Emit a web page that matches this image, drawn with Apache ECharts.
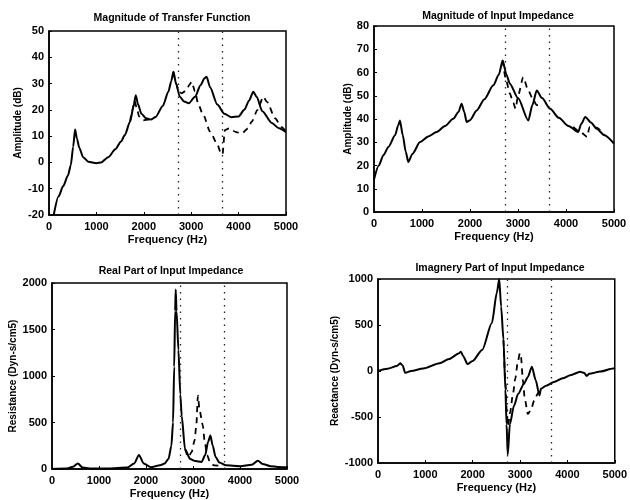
<!DOCTYPE html>
<html>
<head>
<meta charset="utf-8">
<script src="https://cdn.jsdelivr.net/npm/echarts@6/dist/echarts.min.js"></script>
<style>
  html, body { margin: 0; padding: 0; background: #fff; }
  #chart { width: 630px; height: 500px; }
</style>
</head>
<body>
<div id="chart"></div>
<script>
// vertical dotted marker frequencies (Hz)
const markerHz = [2730, 3660];

// Magnitude of Transfer Function
const tfSolidHz = [100, 200, 300, 400, 460, 510, 550, 590, 640, 720, 830, 1000, 1100, 1250, 1400, 1520, 1600, 1710, 1780, 1830, 1880, 1950, 2050, 2150, 2250, 2400, 2520, 2580, 2625, 2680, 2760, 2850, 2950, 3080, 3200, 3280, 3325, 3400, 3550, 3700, 3850, 4000, 4120, 4220, 4310, 4380, 4500, 4700, 4850, 5000];
const tfSolidDb = [-20, -13, -9, -5, -1, 6, 12.5, 9, 5.5, 2, 0.3, -0.3, 0, 2, 5, 8, 10.4, 15.5, 21, 25.6, 22, 18.5, 16.8, 16.3, 17.3, 21.5, 27, 31, 34.5, 30, 25, 23.2, 22.5, 25, 29.5, 32, 32.6, 28.5, 22, 18.5, 17.2, 17.5, 20, 23.5, 26.9, 25, 19.5, 15, 13, 11.5];
const tfDashHz = [1710, 1760, 1800, 1850, 1900, 1990, 2100, 2250];
const tfDashDb = [15.5, 20, 23.5, 21, 17.5, 16, 16.3, 17.3];
const tfDash2Hz = [2625, 2680, 2740, 2800, 2900, 2960, 3010, 3080, 3150, 3255, 3400, 3540, 3630, 3660, 3710, 3800, 3950, 4065, 4200, 4276, 4400, 4520, 4600, 4770, 4900, 5000];
const tfDash2Db = [34.5, 30, 27, 26.3, 27.5, 29.5, 30.7, 27, 22, 18, 11.7, 7.3, 3.5, 3, 12.3, 13, 11.5, 11, 13, 15.5, 20, 25, 23, 16.8, 13.5, 11.7];

// Magnitude of Input Impedance
const ziSolidHz = [0, 100, 195, 300, 440, 500, 540, 600, 660, 715, 800, 960, 1130, 1305, 1480, 1650, 1760, 1825, 1880, 1930, 2000, 2140, 2300, 2485, 2600, 2680, 2760, 2830, 3000, 3215, 3300, 3390, 3500, 3670, 3850, 4050, 4255, 4320, 4400, 4520, 4640, 4800, 5000];
const ziSolidDb = [14, 20, 24.4, 28, 33, 37, 39.4, 33, 26, 21.5, 25, 30.1, 32.5, 34.4, 37, 40.1, 43, 46.6, 43, 38.7, 39.5, 43.7, 48.5, 54.5, 59, 65.2, 59, 55.2, 49, 39.4, 46, 52.3, 49, 44.4, 40.5, 37, 34.4, 38, 40.9, 38.5, 35.8, 33, 29.4];
const ziDashHz = [2680, 2760, 2830, 2900, 2950, 3000, 3110, 3210, 3300, 3390, 3500];
const ziDashDb = [65.2, 56, 51, 47, 44.4, 50, 58, 52.5, 49, 46, 46];
const ziDash2Hz = [4150, 4300, 4440, 4490, 4640, 4800];
const ziDash2Db = [36.6, 34.4, 32.3, 36.5, 36.3, 33];

// Real Part of Input Impedance
const reSolidHz = [0, 300, 450, 550, 650, 800, 1200, 1600, 1750, 1850, 1950, 2100, 2300, 2400, 2480, 2540, 2575, 2600, 2620, 2632, 2650, 2690, 2730, 2760, 2830, 2940, 3050, 3180, 3260, 3320, 3370, 3420, 3480, 3560, 3700, 4000, 4250, 4380, 4480, 4650, 4800, 5000];
const reSolidR = [0, 5, 25, 60, 15, 5, 5, 15, 60, 150, 60, 20, 40, 60, 110, 250, 500, 1100, 1700, 1930, 1700, 1280, 800, 570, 214, 107, 85, 75, 150, 290, 360, 250, 130, 70, 40, 30, 45, 90, 55, 30, 22, 18];
const reDashHz = [2830, 2900, 2970, 3035, 3070, 3105, 3140, 3210, 3245, 3300, 3370, 3450, 3560];
const reDashR = [214, 130, 180, 310, 470, 788, 631, 467, 310, 150, 60, 40, 35];

// Imaginary Part of Input Impedance
const imSolidHz = [0, 200, 400, 470, 520, 575, 700, 955, 1300, 1500, 1715, 1750, 1800, 1890, 2000, 2200, 2405, 2510, 2560, 2600, 2650, 2690, 2715, 2740, 2785, 2870, 2960, 3080, 3165, 3250, 3330, 3410, 3440, 3550, 3715, 3900, 4060, 4270, 4350, 4410, 4460, 4700, 4965, 5000];
const imSolidX = [0, 25, 55, 83, 60, -20, 0, 27, 83, 130, 193, 210, 160, 75, 110, 229, 522, 852, 1000, 700, 339, -200, -578, -908, -578, -380, -248, -140, -64, 46, -100, -266, -193, -160, -119, -80, -46, -9, -20, -53, -30, -5, 27, 30];
const imDashHz = [2650, 2690, 2720, 2745, 2790, 2850, 2900, 2950, 2995, 3020, 3060, 3100, 3165, 3230, 3300, 3380, 3440];
const imDashX = [339, -100, -450, -600, -450, -250, -80, 90, 193, 150, -100, -303, -468, -420, -321, -240, -193];

const titles = ['Magnitude of Transfer Function', 'Magnitude of Input Impedance', 'Real Part of Input Impedance', 'Imagnery Part of Input Impedance'];
const yNames = ['Amplitude (dB)', 'Amplitude (dB)', 'Resistance (Dyn-s/cm5)', 'Reactance (Dyn-s/cm5)'];

const zip = (a, b) => a.map((v, i) => [v, b[i]]);

const font = 'Liberation Sans';
const grids = [
  { left: 49, top: 31, width: 237, height: 184 },
  { left: 374, top: 26, width: 240, height: 186 },
  { left: 52, top: 283, width: 235, height: 187 },
  { left: 378, top: 279, width: 241, height: 184 }
];
const yRange = [[-20, 50, 10], [0, 80, 10], [0, 2000, 500], [-1000, 1000, 500]];
const yGap = [26, 18, 31, 38];
const titlePos = [[167, 8], [493, 6], [166, 261], [495, 258]];

const chart = echarts.init(document.getElementById('chart'));

const solid = { type: 'line', showSymbol: false, smooth: 0.25, smoothMonotone: 'x', lineStyle: { color: '#000', width: 2 }, silent: true };
const dashed = { type: 'line', showSymbol: false, smooth: 0.25, smoothMonotone: 'x', lineStyle: { color: '#000', width: 1.8, type: [6, 5] }, silent: true };
function mark() {
  return {
    silent: true, symbol: 'none', label: { show: false },
    lineStyle: { color: '#222', width: 1.3, type: [1.5, 5] },
    data: markerHz.map(v => ({ xAxis: v }))
  };
}

const series = [];
const panels = [
  [zip(tfSolidHz, tfSolidDb), [zip(tfDashHz, tfDashDb), zip(tfDash2Hz, tfDash2Db)]],
  [zip(ziSolidHz, ziSolidDb), [zip(ziDashHz, ziDashDb), zip(ziDash2Hz, ziDash2Db)]],
  [zip(reSolidHz, reSolidR), [zip(reDashHz, reDashR)]],
  [zip(imSolidHz, imSolidX), [zip(imDashHz, imDashX)]]
];
panels.forEach((p, i) => {
  series.push(Object.assign({}, solid, { xAxisIndex: i, yAxisIndex: i, data: p[0], markLine: mark() }));
  p[1].forEach(d => series.push(Object.assign({}, dashed, { xAxisIndex: i, yAxisIndex: i, data: d })));
});

const labelStyle = { fontFamily: font, fontSize: 11, fontWeight: 'bold', color: '#000', formatter: v => String(v) };

chart.setOption({
  animation: false,
  backgroundColor: '#fff',
  title: titles.map((t, i) => ({
    text: t, left: titlePos[i][0], top: titlePos[i][1], textAlign: 'center',
    textStyle: { fontFamily: font, fontSize: 10.5, fontWeight: 'bold', color: '#000' }
  })),
  grid: grids.map(g => Object.assign({ show: true, borderColor: '#000', borderWidth: 1.5, containLabel: false }, g)),
  xAxis: grids.map((g, i) => ({
    type: 'value', gridIndex: i, min: 0, max: 5000, interval: 1000,
    name: 'Frequency (Hz)', nameLocation: 'middle', nameGap: 19,
    nameTextStyle: { fontFamily: font, fontSize: 11, fontWeight: 'bold', color: '#000' },
    axisLine: { show: true, onZero: false, lineStyle: { color: '#000', width: 1.5 } },
    axisTick: { show: true, inside: true, length: 3, lineStyle: { color: '#000' } },
    axisLabel: Object.assign({ margin: 6 }, labelStyle),
    splitLine: { show: false }
  })),
  yAxis: grids.map((g, i) => ({
    type: 'value', gridIndex: i, min: yRange[i][0], max: yRange[i][1], interval: yRange[i][2],
    name: yNames[i], nameLocation: 'middle', nameGap: yGap[i], nameRotate: 90,
    nameTextStyle: { fontFamily: font, fontSize: 10, fontWeight: 'bold', color: '#000' },
    axisLine: { show: true, onZero: false, lineStyle: { color: '#000', width: 1.5 } },
    axisTick: { show: true, inside: true, length: 3, lineStyle: { color: '#000' } },
    axisLabel: Object.assign({ margin: 5 }, labelStyle),
    splitLine: { show: false }
  })),
  series: series
});
</script>
</body>
</html>
